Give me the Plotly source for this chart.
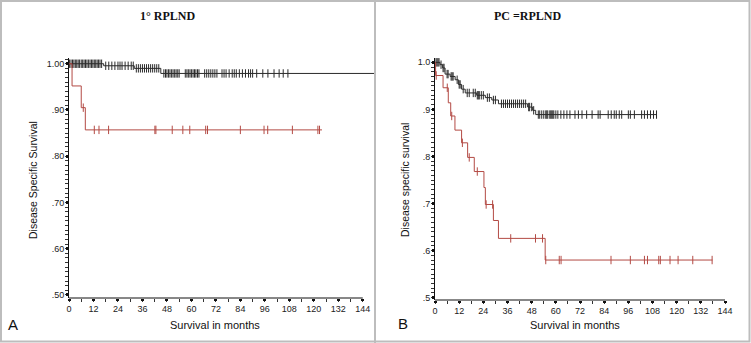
import numpy as np
import plotly.graph_objects as go

# ---------------- Panel A : 1° RPLND ----------------
a_black_t = [0, 17, 32, 45, 149.5]
a_black_s = [1.0, 0.9956, 0.990, 0.979, 0.979]
a_black_cens = [0.3, 1, 1.7, 2.4, 3.1, 3.8, 4.5, 5.2, 6, 6.7, 7.4, 8.1, 8.8, 9.5, 10.3, 11, 11.7,
                12.4, 13.1, 13.8, 14.5, 15.2, 16,
                18, 19.5, 21, 22.5, 24, 25, 26, 27.5, 29, 30.5, 31.5,
                33, 34, 35, 36, 37, 38, 39, 40, 41, 42, 43, 44,
                46.5, 47.3, 48, 48.8, 49.5, 50.3, 51, 51.8, 52.5, 53.3, 54,
                57, 57.8, 58.5, 59.3, 60, 60.8, 61.5, 62.2, 63, 63.7,
                66.5, 67.5, 68.5, 69.5, 70.5, 71.5, 72.5,
                75, 76, 77, 78.5, 80, 81, 82, 83.5, 85, 86.5, 88, 89, 90,
                92, 95, 97.5, 100.5, 103, 105, 107.3]
a_red_t = [0, 1.5, 6, 8, 124]
a_red_s = [1.0, 0.952, 0.905, 0.857, 0.857]
a_red_cens = [7, 12.4, 14.7, 19.4, 42.1, 42.6, 50.6, 55.8, 59.2, 67.0, 67.9,
              84.0, 95.6, 97.4, 109.5, 122, 122.8]

# ---------------- Panel B : PC-RPLND ----------------
b_black_t = [0, 2.5, 3.8, 5, 7.5, 10, 11.6, 13.2, 15, 20.7, 25, 28.2, 31.5, 46, 48.5, 50, 110]
b_black_s = [1.0, 0.995, 0.988, 0.975, 0.970, 0.963, 0.953, 0.943, 0.935, 0.930, 0.925,
             0.920, 0.912, 0.905, 0.898, 0.889, 0.889]
b_black_cens = [0.5, 1, 1.5, 2, 3, 4, 4.5, 6, 6.5, 8, 8.5, 9, 11, 12, 12.5, 14, 16, 17, 19, 20,
                21, 21.5, 22, 23, 24, 26, 27, 29, 30, 33, 34, 35, 36, 37, 38, 39, 40, 41, 42,
                43, 44, 45, 46.5, 47, 48, 49,
                51.3, 52, 53, 54, 55, 55.5, 56, 57, 57.5, 58, 58.5, 59, 60, 61, 62.5, 64, 65.5,
                67, 69.5, 71.2, 73, 75.3, 78, 81, 82, 86, 87.5, 89, 90, 91.5, 92.7, 96, 97, 99,
                102.6, 104, 105.5, 107, 108.5, 110]
b_red_t = [0, 0.3, 4, 6.6, 7.8, 9.9, 13.2, 16.2, 19.5, 24.3, 25, 29, 31.5, 54.7, 137.8]
b_red_s = [1.0, 0.972, 0.946, 0.914, 0.886, 0.856, 0.829, 0.798, 0.768, 0.734, 0.698,
           0.664, 0.626, 0.580, 0.580]
b_red_cens = [0.6, 6.1, 8.3, 13.6, 17, 21, 25.4, 28.6, 37.6, 49.9, 53.4, 55, 61.7, 62.6,
              87.4, 97, 104, 105.5, 111.1, 111.9, 116.7, 120.7, 128, 137.6]

x_ticks = list(range(0, 145, 12))
a_yticks = [0.5, 0.6, 0.7, 0.8, 0.9, 1.0]
a_ytext = [".50", ".60", ".70", ".80", ".90", "1.00"]
b_yticks = [0.5, 0.6, 0.7, 0.8, 0.9, 1.0]
b_ytext = [".5", ".6", ".7", ".8", ".9", "1.0"]

BLACK = "#2a2a2a"
RED = "#b34a44"


def step_at(ts, ss, c):
    i = np.searchsorted(np.array(ts), c, side="right") - 1
    return ss[max(i, 0)]


fig = go.Figure()


def add_curve(ts, ss, cens, color, xa, ya):
    fig.add_trace(go.Scatter(x=ts, y=ss, mode="lines", line=dict(color=color, width=1, shape="hv"),
                             xaxis=xa, yaxis=ya, showlegend=False, hoverinfo="skip", cliponaxis=False))
    fig.add_trace(go.Scatter(x=cens, y=[step_at(ts, ss, c) for c in cens], mode="markers",
                             marker=dict(symbol="line-ns", size=6, line=dict(color=color, width=1)),
                             xaxis=xa, yaxis=ya, showlegend=False, hoverinfo="skip", cliponaxis=False))


add_curve(a_black_t, a_black_s, a_black_cens, BLACK, "x", "y")
add_curve(a_red_t, a_red_s, a_red_cens, RED, "x", "y")
add_curve(b_black_t, b_black_s, b_black_cens, BLACK, "x2", "y2")
add_curve(b_red_t, b_red_s, b_red_cens, RED, "x2", "y2")

W, H = 751, 343
tickfont = dict(family="Liberation Sans, Arial", size=9, color="#222")

common_x = dict(tickvals=x_ticks, ticktext=[str(v) for v in x_ticks], ticks="outside", ticklen=2,
                tickwidth=3, tickcolor="#111", showline=False, showgrid=False, zeroline=False,
                automargin=False, tickfont=tickfont,
                minor=dict(dtick=6, ticks="outside", ticklen=3, tickwidth=1,
                           tickcolor="#333", tick0=0))
common_y = dict(ticks="outside", ticklen=2, tickwidth=3, tickcolor="#111", showline=True,
                linecolor="#111", linewidth=1, showgrid=False, zeroline=False, tickfont=tickfont,
                automargin=False,
                minor=dict(dtick=0.01, ticks="outside", ticklen=3, tickwidth=1, tickcolor="#333"))

fig.update_layout(
    width=W, height=H, margin=dict(l=0, r=0, t=0, b=0, autoexpand=False),
    paper_bgcolor="white", plot_bgcolor="white",
    xaxis=dict(domain=[69 / W, 374 / W], range=[0, 149.5], anchor="y", **common_x),
    yaxis=dict(domain=[(H - 298) / H, (H - 58) / H], range=[0.4935, 1.0124], anchor="x",
               tickvals=a_yticks, ticktext=a_ytext, **common_y),
    xaxis2=dict(domain=[435 / W, 725 / W], range=[0, 144], anchor="y2", **common_x),
    yaxis2=dict(domain=[(H - 300) / H, (H - 58) / H], range=[0.4951, 1.0092], anchor="x2",
                tickvals=b_yticks, ticktext=b_ytext, **common_y),
)

# x-axis baselines (stop at 144 like the original)
fig.add_shape(type="line", xref="x", yref="y domain", x0=0, x1=144, y0=0, y1=0,
              line=dict(color="#111", width=1))
fig.add_shape(type="line", xref="x2", yref="y2 domain", x0=0, x1=144, y0=0, y1=0,
              line=dict(color="#111", width=1))

# frames
fig.add_shape(type="rect", xref="paper", yref="paper", x0=1 / W, x1=1 - 1.5 / W, y0=1.5 / H, y1=1 - 1 / H,
              line=dict(color="#bdbdbd", width=2), layer="below")
fig.add_shape(type="line", xref="paper", yref="paper", x0=375 / W, x1=375 / W, y0=0, y1=1,
              line=dict(color="#bdbdbd", width=2), layer="below")

def ann(text, x, y, size, family="Liberation Sans, Arial", bold=False, angle=0):
    fig.add_annotation(text=("<b>%s</b>" % text) if bold else text, x=x / W, y=1 - y / H,
                       xref="paper", yref="paper", showarrow=False, textangle=angle,
                       font=dict(family=family, size=size, color="#111"),
                       xanchor="center", yanchor="middle")

ann("1° RPLND", 167, 16, 12, family="Liberation Serif, Times New Roman", bold=True)
ann("PC =RPLND", 528, 16, 12, family="Liberation Serif, Times New Roman", bold=True)
ann("Survival in months", 215, 325, 11)
ann("Survival in months", 575, 325, 11)
ann("Disease Specific Survival", 33, 180, 10.5, angle=-90)
ann("Disease specific survival", 405, 180, 10.5, angle=-90)
ann("A", 13, 324, 15)
ann("B", 403, 323, 15)

fig.write_html("out.html", config={"displayModeBar": False},
               post_script="document.body.style.margin='0';document.body.style.overflow='hidden';")
